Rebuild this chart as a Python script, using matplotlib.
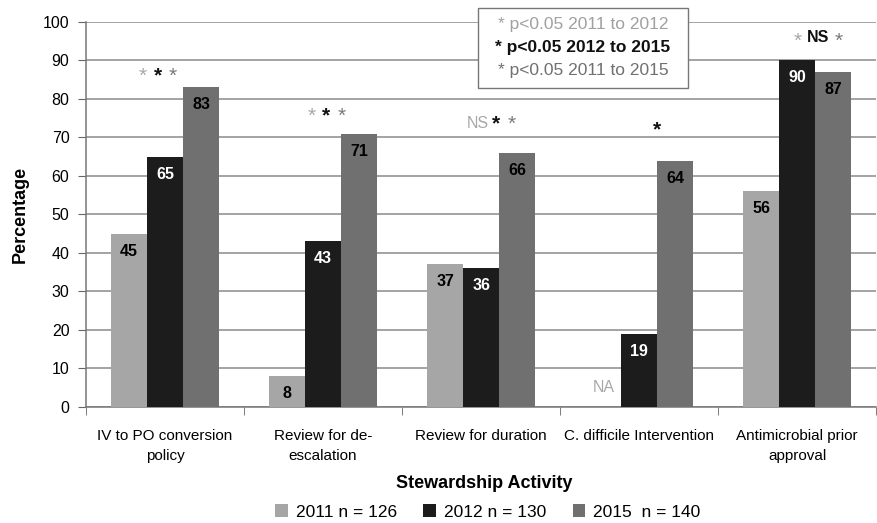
import matplotlib
matplotlib.use("Agg")
import matplotlib.pyplot as plt
import numpy as np

categories = ["IV to PO conversion\npolicy", "Review for de-\nescalation",
              "Review for duration", "C. difficile Intervention",
              "Antimicrobial prior\napproval"]
series_names = ["2011 n = 126", "2012 n = 130", "2015  n = 140"]
v2011 = [45, 8, 37, np.nan, 56]
v2012 = [65, 43, 36, 19, 90]
v2015 = [83, 71, 66, 64, 87]
colors = ["#a6a6a6", "#1c1c1c", "#707070"]
label_colors = ["black", "white", "black"]
yticks = [0, 10, 20, 30, 40, 50, 60, 70, 80, 90, 100]

# significance annotations: (category index, x offset, y value, text, color, bold)
LG, BK, MG = "#a8a8a8", "#111111", "#7a7a7a"
annotations = [
    (0, -0.14, 86, "*", LG, False), (0, -0.045, 86, "*", BK, True), (0, 0.05, 86, "*", MG, False),
    (1, -0.07, 75.5, "*", LG, False), (1, 0.02, 75.5, "*", BK, True), (1, 0.115, 75.5, "*", MG, False),
    (2, -0.02, 73.5, "NS", LG, False), (2, 0.095, 73.5, "*", BK, True), (2, 0.195, 73.5, "*", MG, False),
    (3, 0.11, 72, "*", BK, True),
    (4, 0.0, 95, "*", LG, False), (4, 0.13, 96, "NS", BK, True), (4, 0.26, 95, "*", MG, False),
]

narrow = ["Liberation Sans Narrow", "Liberation Sans", "DejaVu Sans"]
sans = ["Liberation Sans", "DejaVu Sans"]

fig = plt.figure(figsize=(8.78, 5.23), dpi=100)
ax = fig.add_axes([0.098, 0.222, 0.9, 0.736])

x = np.arange(len(categories))
w = 0.227
series = [v2011, v2012, v2015]
for i, (vals, c, lc, name) in enumerate(zip(series, colors, label_colors, series_names)):
    bars = ax.bar(x + (i - 1) * w, vals, width=w, color=c, label=name, zorder=3)
    labels = ["" if np.isnan(v) else f"{int(v)}" for v in np.asarray(vals, dtype=float)]
    ax.bar_label(bars, labels=labels, padding=-18, color=lc, fontsize=11.5,
                 fontweight="bold", family=narrow, zorder=4)

ax.text(x[3] - w, 5, "NA", ha="center", va="center", color="#a8a8a8",
        fontsize=11.5, family=narrow)

for ci, dx, yv, t, c, b in annotations:
    ax.text(x[ci] + dx, yv, t, ha="center", va="center", color=c,
            fontsize=15 if t == "*" else 11.5,
            fontweight="bold" if b else "normal",
            family=sans if t == "*" else narrow, zorder=5)

ax.set_xlim(-0.5, len(categories) - 0.5)
ax.set_ylim(0, 100)
ax.set_yticks(yticks)
ax.set_yticklabels([str(t) for t in yticks], fontsize=11.5, family=sans)
ax.yaxis.grid(True, color="#8a8a8a", linewidth=1.1, zorder=0)
ax.set_axisbelow(True)

ax.set_xticks(x)
ax.set_xticklabels(categories, fontsize=11, family=narrow, linespacing=1.55)
ax.set_xticks(np.arange(-0.5, len(categories)), minor=True)
ax.tick_params(axis="x", which="major", length=0, pad=16)
ax.tick_params(axis="x", which="minor", length=6, color="#666666")
ax.tick_params(axis="y", length=6, color="#666666", pad=6)

for s in ["top", "right"]:
    ax.spines[s].set_visible(False)
for s in ["left", "bottom"]:
    ax.spines[s].set_color("#777777")
    ax.spines[s].set_linewidth(1.1)

ax.set_ylabel("Percentage", fontsize=13, fontweight="bold", family=sans, labelpad=10)
fig.text(484 / 878, 1 - 483 / 523, "Stewardship Activity", ha="center", va="center",
         fontsize=13, fontweight="bold", family=sans)

leg = fig.legend(loc="center", bbox_to_anchor=(488 / 878, 1 - 512 / 523), ncol=3, frameon=False,
                 handlelength=0.7, handleheight=0.7, handletextpad=0.5, columnspacing=1.5,
                 prop={"family": sans, "size": 12.5})

# significance key box
box_lines = [("* p<0.05 2011 to 2012", "#a0a0a0", "normal"),
             ("* p<0.05 2012 to 2015", "#111111", "bold"),
             ("* p<0.05 2011 to 2015", "#707070", "normal")]
bx0, by0, bx1, by1 = 478 / 878, 1 - 88 / 523, 688 / 878, 1 - 8 / 523
rect = plt.Rectangle((bx0, by0), bx1 - bx0, by1 - by0, transform=fig.transFigure,
                     facecolor="white", edgecolor="#777777", linewidth=1.0, zorder=10)
fig.add_artist(rect)
for k, (t, c, fw) in enumerate(box_lines):
    fig.text((bx0 + bx1) / 2, 1 - (25 + k * 22.5) / 523, t, ha="center", va="center",
             color=c, fontweight=fw, fontsize=12.5, family=sans, zorder=11)

fig.savefig("out.png", dpi=100)
